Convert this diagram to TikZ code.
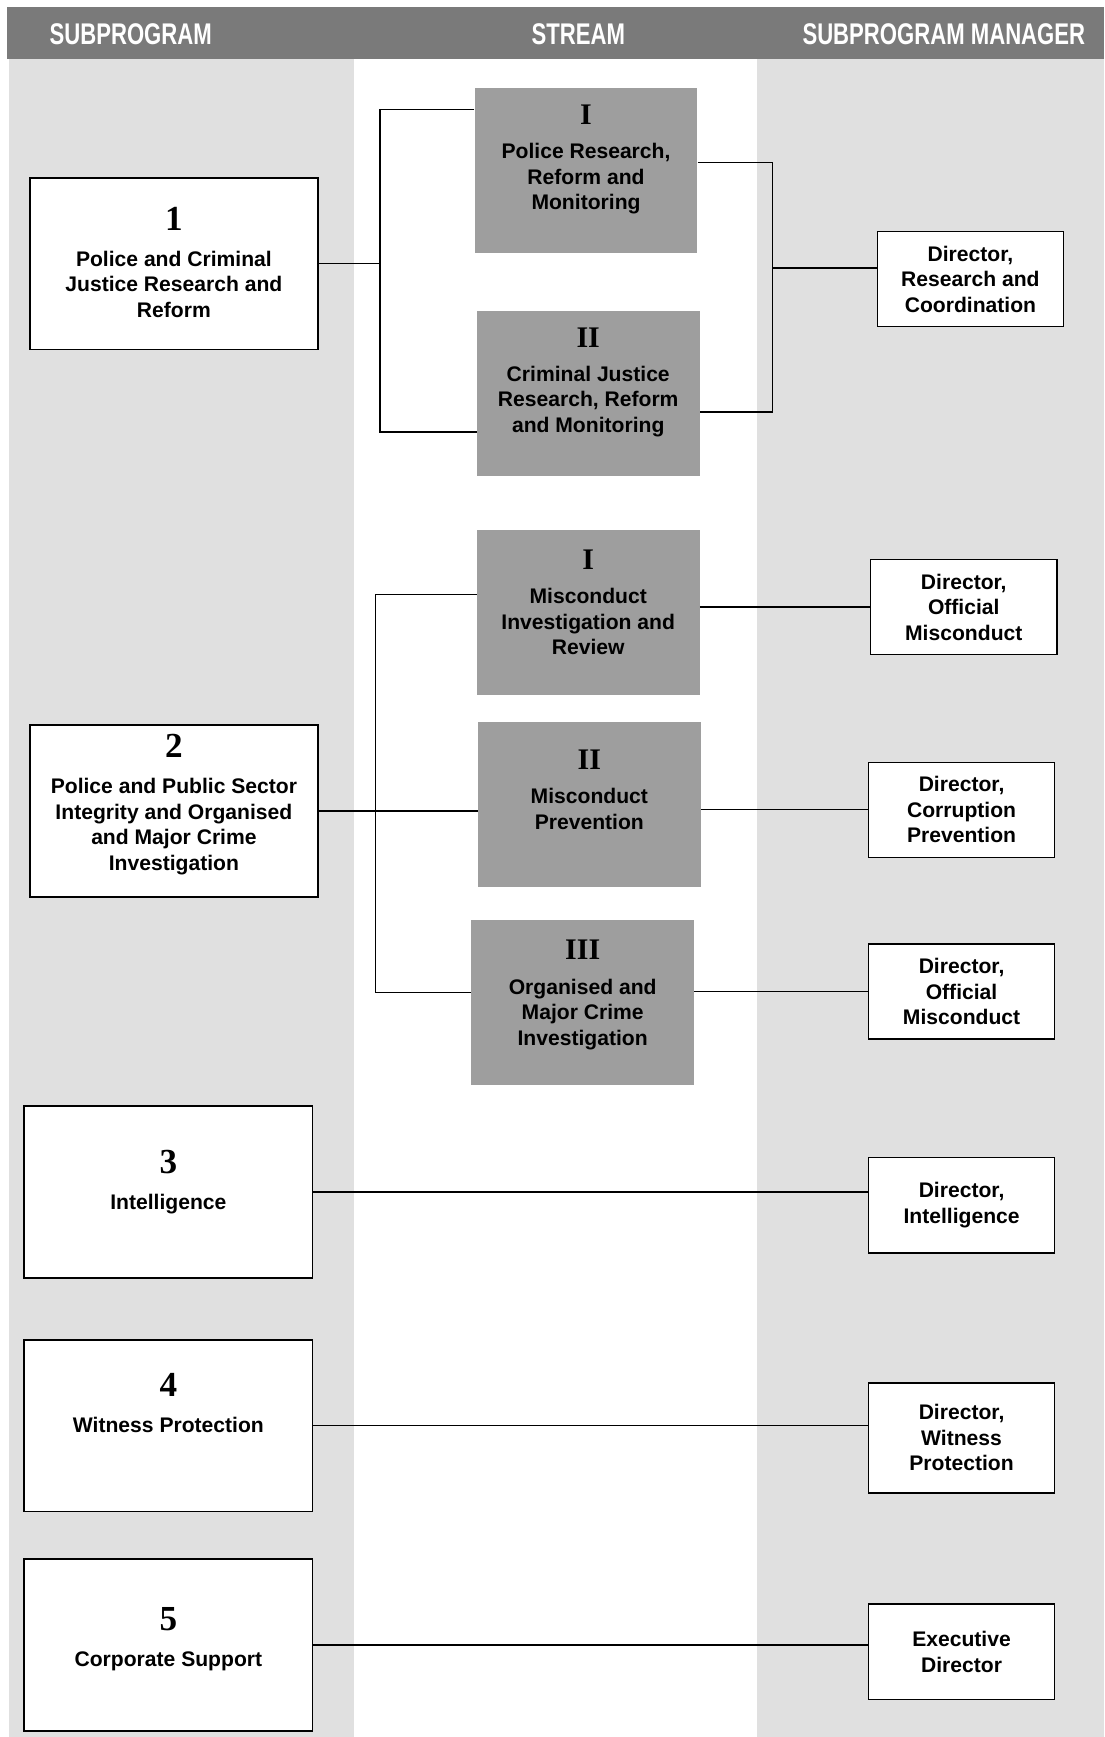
\documentclass[tikz,border=0pt]{standalone}
\usepackage{fontspec}
\setmainfont{Liberation Sans}
\newfontfamily\headfont[FakeStretch=0.74]{Liberation Sans}
\newfontfamily\numfont{Liberation Serif}
\newcommand{\pnum}[1]{{\numfont\bfseries\fontsize{20}{20}\selectfont #1}}
\newcommand{\snum}[1]{{\numfont\bfseries\fontsize{17}{17}\selectfont #1}}

\begin{document}
\begin{tikzpicture}[
  x=0.02214cm, y=-0.02214cm,
  progbox/.style={draw=black, line width=0.9pt, fill=white, minimum width=5.76cm, minimum height=3.43cm},
  streambox/.style={fill=black!38, minimum width=4.45cm, minimum height=3.3cm},
  mgrbox/.style={draw=black, line width=0.8pt, fill=white, minimum width=3.72cm, minimum height=1.9cm,
    align=center, inner sep=2pt, font=\bfseries\fontsize{12}{14.5}\selectfont},
  boxtxt/.style={align=center, inner sep=0pt, font=\bfseries\fontsize{12}{14.5}\selectfont},
  headtxt/.style={text=white, font=\headfont\bfseries\fontsize{17}{17}\selectfont},
  link/.style={draw=black, line width=0.7pt}
]
  \useasboundingbox (0,0) rectangle (997,1568);

  % column bands and head
  \fill[black!12] (8,53) rectangle (320,1568);
  \fill[black!12] (683,53) rectangle (997,1568);
  \fill[black!52] (6,6) rectangle (997,53);

  \node[headtxt] (hsub) at (118,31) {SUBPROGRAM};
  \node[headtxt] (hstream) at (522,31) {STREAM};
  \node[headtxt] (hmgr) at (852,31) {SUBPROGRAM MANAGER};

  % subprograms
  \node[progbox] (b1) at (157,238) {};
  \node[progbox] (b2) at (157,732) {};
  \node[progbox] (b3) at (152,1076) {};
  \node[progbox] (b4) at (152,1287) {};
  \node[progbox] (b5) at (152,1485) {};
  \node[boxtxt] (b1t) at ([yshift=0.03cm]b1) {\pnum{1}\\[6pt] Police and Criminal\\Justice Research and\\Reform};
  \node[boxtxt] (b2t) at ([yshift=0.13cm]b2) {\pnum{2}\\[6pt] Police and Public Sector\\Integrity and Organised\\and Major Crime\\Investigation};
  \node[boxtxt] (b3t) at ([yshift=0.2cm]b3) {\pnum{3}\\[6pt] Intelligence};
  \node[boxtxt] (b4t) at ([yshift=0.46cm]b4) {\pnum{4}\\[6pt] Witness Protection};
  \node[boxtxt] (b5t) at ([yshift=0.11cm]b5) {\pnum{5}\\[6pt] Corporate Support};

  % streams
  \node[streambox] (s1a) at (529,154) {};
  \node[streambox] (s1b) at (531,355) {};
  \node[streambox] (s2a) at (531,553) {};
  \node[streambox] (s2b) at (532,726) {};
  \node[streambox] (s2c) at (526,905) {};
  \node[boxtxt] (s1at) at ([yshift=0.22cm]s1a) {\snum{I}\\[5pt] Police Research,\\Reform and\\Monitoring};
  \node[boxtxt] (s1bt) at ([yshift=0.22cm]s1b) {\snum{II}\\[5pt] Criminal Justice\\Research, Reform\\and Monitoring};
  \node[boxtxt] (s2at) at ([yshift=0.2cm]s2a) {\snum{I}\\[5pt] Misconduct\\Investigation and\\Review};
  \node[boxtxt] (s2bt) at ([yshift=0.29cm]s2b) {\snum{II}\\[5pt] Misconduct\\Prevention};
  \node[boxtxt] (s2ct) at ([yshift=0.15cm]s2c) {\snum{III}\\[5pt] Organised and\\Major Crime\\Investigation};

  % managers
  \node[mgrbox] (m1) at (876,252) {Director,\\Research and\\Coordination};
  \node[mgrbox] (m2) at (870,548) {Director,\\Official\\Misconduct};
  \node[mgrbox] (m3) at (868,731) {Director,\\Corruption\\Prevention};
  \node[mgrbox] (m4) at (868,895) {Director,\\Official\\Misconduct};
  \node[mgrbox] (m5) at (868,1088) {Director,\\Intelligence};
  \node[mgrbox, minimum height=2.2cm] (m6) at (868,1298) {Director,\\Witness\\Protection};
  \node[mgrbox] (m7) at (868,1491) {Executive\\Director};

  % links, subprogram 1
  \coordinate (j1t) at (343,99);
  \coordinate (j1b) at (343,390);
  \coordinate (k1t) at (697,147);
  \coordinate (k1b) at (697,372);
  \coordinate (k1m) at (697,242);
  \draw[link] (b1.east) -- (b1.east -| j1t);
  \draw[link] (s1a.west |- j1t) -- (j1t) -- (j1b) -- (s1b.west |- j1b);
  \draw[link] (s1a.east |- k1t) -- (k1t) -- (k1b) -- (s1b.east |- k1b);
  \draw[link] (k1m) -- (k1m -| m1.west);

  % links, subprogram 2
  \coordinate (j2t) at (339,537);
  \coordinate (j2b) at (339,896);
  \draw[link] (b2.east) -- (b2.east -| s2b.west);
  \draw[link] (s2a.west |- j2t) -- (j2t) -- (j2b) -- (s2c.west |- j2b);
  \draw[link] (s2a.east |- m2.west) -- (m2.west);
  \draw[link] (s2b.east |- m3.west) -- (m3.west);
  \draw[link] (s2c.east |- m4.west) -- (m4.west);

  % links, subprograms 3 to 5
  \draw[link] (b3.east) -- (b3.east -| m5.west);
  \draw[link] (b4.east) -- (b4.east -| m6.west);
  \draw[link] (b5.east) -- (b5.east -| m7.west);
\end{tikzpicture}
\end{document}
